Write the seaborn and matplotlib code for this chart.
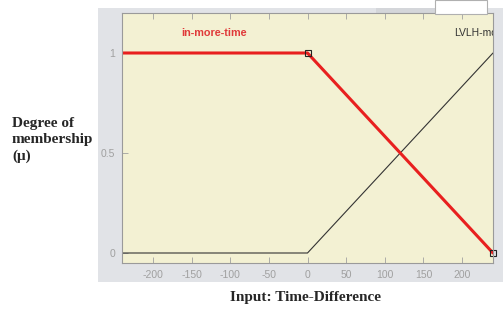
import matplotlib
matplotlib.use("Agg")
import matplotlib.pyplot as plt
import seaborn as sns
from matplotlib.patches import Rectangle

x_points = [-240, 0, 240]
in_more_time = [1, 1, 0]
lvlh_more = [0, 0, 1]
x_ticks = [-200, -150, -100, -50, 0, 50, 100, 150, 200]
y_ticks = [0, 0.5, 1]

sns.set_theme(style="white")
plt.rcParams["font.family"] = ["Liberation Sans", "DejaVu Sans"]
plt.rcParams["axes.unicode_minus"] = False

fig = plt.figure(figsize=(5.03, 3.09), dpi=100)
W, H = 503, 309

def fig_rect(x0, y0, x1, y1):
    # pixel box (top-left origin) -> figure fraction
    return (x0 / W, 1 - y1 / H, (x1 - x0) / W, (y1 - y0) / H)

# gray GUI panel behind the axes, tabs at the top
px, py, pw, ph = fig_rect(98, 8, 503, 282)
fig.add_artist(Rectangle((px, py), pw, ph, transform=fig.transFigure,
                         facecolor="#e1e3e7", edgecolor="none", zorder=-5))
tx, ty, tw, th = fig_rect(376, 8, 437, 14)
fig.add_artist(Rectangle((tx, ty), tw, th, transform=fig.transFigure,
                         facecolor="#d4d6da", edgecolor="none", zorder=-4))

ax = fig.add_axes(fig_rect(122, 13, 493, 263))
ax.set_facecolor("#f3f1d3")
ax.set_zorder(1)

bx, by, bw, bh = fig_rect(435, 0, 487, 14)
fig.add_artist(Rectangle((bx, by), bw, bh, transform=fig.transFigure,
                         facecolor="white", edgecolor="#b0b0b0", linewidth=0.8, zorder=5))

sns.lineplot(x=x_points, y=lvlh_more, ax=ax, color="#333333", linewidth=0.8, sort=False)
sns.lineplot(x=x_points, y=in_more_time, ax=ax, color="#e8201f", linewidth=2.2, sort=False)
ax.plot(x_points[1:], in_more_time[1:], linestyle="none", marker="s", markersize=5,
        markerfacecolor="none", markeredgecolor="#222222", markeredgewidth=0.8, clip_on=False)

ax.set_xlim(-240, 240)
ax.set_ylim(-0.05, 1.2)
ax.set_xticks(x_ticks)
ax.set_yticks(y_ticks)
ax.set_yticklabels(["0", "0.5", "1"])
ax.tick_params(axis="both", direction="in", length=4, width=0.6, colors="#a0a0a0",
               labelsize=7.5, top=True, bottom=True, left=True, right=False, pad=5)
for sp in ax.spines.values():
    sp.set_color("#9a9a9a")
    sp.set_linewidth(0.8)

ax.text(-121, 1.1, "in-more-time", color="#e03a3a", fontsize=7.8, fontweight="bold",
        ha="center", va="center")
ax.text(190, 1.1, "LVLH-more", color="#333333", fontsize=7.5, ha="left", va="center",
        clip_on=True)

fig.text(12 / W, 1 - 140 / H, "Degree of\nmembership\n(\u03bc)", family="Liberation Serif",
         fontweight="bold", fontsize=11, ha="left", va="center", linespacing=1.3)
fig.text(305 / W, 1 - 297 / H, "Input: Time-Difference", family="Liberation Serif",
         fontweight="bold", fontsize=11, ha="center", va="center")

fig.savefig("out.png", dpi=100)
